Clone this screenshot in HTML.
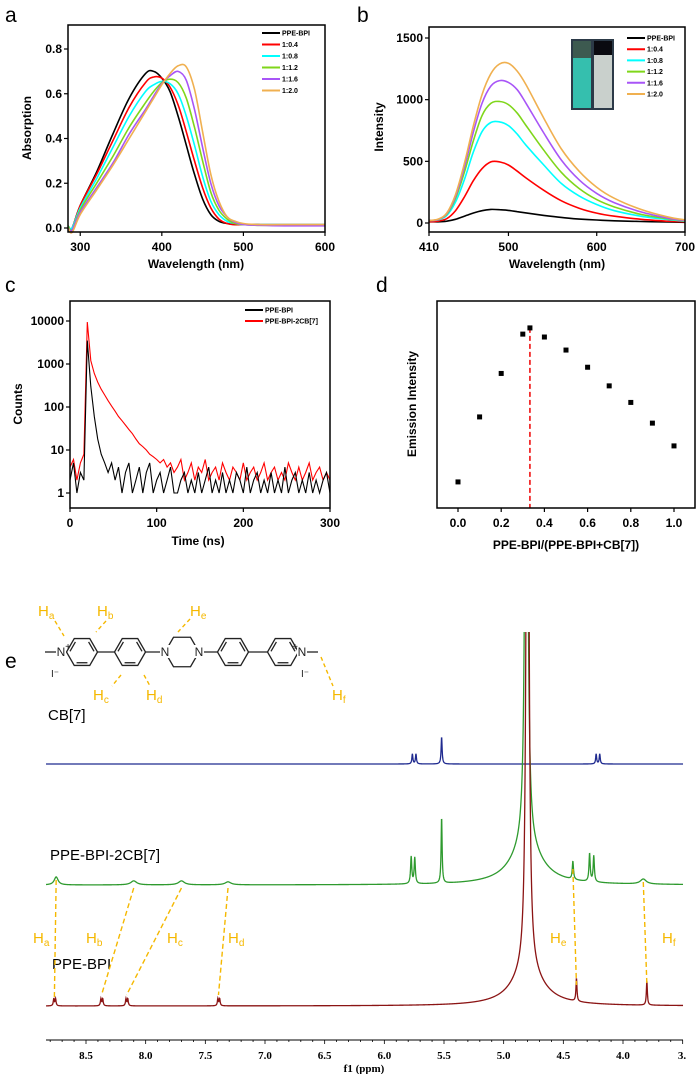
<!DOCTYPE html>
<html><head><meta charset="utf-8"><style>
body{margin:0;background:#fff;width:700px;height:1074px;overflow:hidden}
svg{display:block;font-family:"Liberation Sans",sans-serif}
.tk{font-weight:bold;font-size:12px}
.lg{font-weight:bold;font-size:7px}
.pl{font-size:21px}
.hl{fill:#F5B800;font-size:15px}
</style></head><body>
<svg id="fig" width="700" height="1074" viewBox="0 0 700 1074">
<defs><clipPath id="nmrclip"><rect x="40" y="632" width="650" height="420"/></clipPath>
<clipPath id="cclip"><rect x="70" y="301" width="260" height="207"/></clipPath></defs>
<g id="pa"></g>
<g id="pb"></g>
<g id="pc"></g>
<g id="pd"></g>
<g id="pe"></g>
</svg>
<script>
// ---- Panel a data ----
const absWl=[285,290,300,320,340,360,380,390,400,410,420,430,440,450,460,470,480,490,500,520,550,600];
const absBlack=[0.01,0.0,0.10,0.25,0.42,0.58,0.69,0.70,0.67,0.61,0.50,0.37,0.24,0.13,0.06,0.03,0.02,0.015,0.015,0.015];
const absRed=[0.01,0.0,0.10,0.24,0.39,0.54,0.65,0.675,0.67,0.63,0.55,0.43,0.30,0.18,0.09,0.04,0.02,0.015,0.015,0.015,0.015,0.015];
const absCyan=[0.01,0.0,0.09,0.22,0.36,0.50,0.61,0.64,0.655,0.645,0.60,0.50,0.37,0.23,0.12,0.06,0.03,0.02,0.015,0.015,0.015,0.015];
const absGreen=[0.01,-0.01,0.08,0.20,0.32,0.45,0.56,0.61,0.65,0.665,0.65,0.58,0.45,0.30,0.16,0.08,0.04,0.02,0.015,0.012,0.012,0.012];
const absPurple=[0.0,-0.01,0.07,0.18,0.29,0.42,0.53,0.59,0.645,0.68,0.70,0.66,0.53,0.36,0.20,0.10,0.05,0.025,0.015,0.012,0.01,0.01];
const absOrange=[0.0,-0.02,0.06,0.17,0.28,0.40,0.52,0.58,0.64,0.69,0.725,0.72,0.62,0.43,0.24,0.12,0.05,0.03,0.02,0.015,0.015,0.015];
const seriesNames=["PPE-BPI","1:0.4","1:0.8","1:1.2","1:1.6","1:2.0"];
const seriesColors=["#000","#f00","#0ff","#7fd61a","#a855f7","#f0b050"];
const aXTicks=[300,400,500,600];
const aYTicks=[0.0,0.2,0.4,0.6,0.8];
// ---- Panel b data ----
const emWl=[410,420,430,440,450,460,470,480,490,500,510,520,540,560,580,600,620,650,680,700];
const emBlack=[10,10,15,30,55,80,100,110,108,102,92,82,62,45,32,24,18,12,8,6];
const emRed=[10,15,35,100,210,340,440,495,495,470,420,365,265,180,120,80,55,30,15,10];
const emCyan=[20,25,60,170,350,570,740,815,820,790,720,630,470,320,220,150,100,55,28,15];
const emGreen=[20,28,70,200,410,660,870,970,985,960,890,790,590,410,280,190,130,70,35,18];
const emPurple=[20,28,75,215,450,730,970,1110,1155,1140,1080,970,730,510,350,240,165,90,40,20];
const emOrange=[20,30,80,230,480,780,1040,1210,1290,1295,1230,1120,850,600,420,290,200,110,50,25];
const bXTicks=[410,500,600,700];
const bYTicks=[0,500,1000,1500];
// ---- Panel c data (time step 4 ns) ----
const cTime=[0,4,8,12,16,20,24,28,32,36,40,44,48,52,56,60,64,68,72,76,80,84,88,92,96,100,104,108,112,116,120,124,128,132,136,140,144,148,152,156,160,164,168,172,176,180,184,188,192,196,200,204,208,212,216,220,224,228,232,236,240,244,248,252,256,260,264,268,272,276,280,284,288,292,296,300];
const cBlack=[2,5,1,3,2,3500,300,60,18,8,5,3,5,2,4,1,3,5,1,2,4,1,3,5,1,2,3,1,2,4,1,1,2,3,1,2,1,3,1,2,4,1,2,1,3,1,2,1,3,2,1,4,1,2,3,1,2,1,3,1,2,1,4,1,2,3,1,2,1,3,1,2,1,2,3,1];
const cRed=[4,6,2,5,8,9500,1200,600,380,260,190,140,105,80,60,48,38,30,24,18,14,12,10,8,7,6,5,6,4,5,3,4,6,2,3,5,2,4,3,6,2,3,4,2,5,3,2,4,3,2,5,2,3,4,2,3,5,2,3,4,2,3,2,5,3,2,4,2,3,5,2,3,4,2,3,2];
const cXTicks=[0,100,200,300];
const cYTicks=[1,10,100,1000,10000];
// ---- Panel d data ----
const dRatio=[0,0.1,0.2,0.3,0.333,0.4,0.5,0.6,0.7,0.8,0.9,1.0];
const dIntensity=[12.6,44,65,84,87,82.6,76.3,68,59,51,41,30];
const dPeakRatio=0.333;
const dXTicks=[0,0.2,0.4,0.6,0.8,1.0];
// ---- Panel e data (ppm, intensity, width) ----
const cbPpm=[5.765,5.735,5.52,4.225,4.195];
const cbInt=[10,10,27,10,10];
const cbW=[0.005,0.005,0.005,0.005,0.005];
const cxPpm=[8.75,8.10,7.70,7.31,5.775,5.745,5.52,4.81,4.81,4.42,4.28,4.245,3.83];
const cxInt=[8,4,4,3,27,26,66,700,40,18,28,26,5];
const cxW=[0.02,0.03,0.03,0.03,0.006,0.006,0.005,0.012,0.15,0.006,0.006,0.006,0.03];
const frPpm=[8.77,8.755,8.375,8.36,8.165,8.15,7.395,7.38,4.80,4.80,4.39,3.80];
const frInt=[7,7,7,7,7,7,7,7,900,36,23,24];
const frW=[0.005,0.005,0.005,0.005,0.005,0.005,0.005,0.005,0.011,0.15,0.005,0.005];
const eXTicks=[8.5,8.0,7.5,7.0,6.5,6.0,5.5,5.0,4.5,4.0];

const NS="http://www.w3.org/2000/svg";
function mk(parent,tag,attrs,text){const e=document.createElementNS(NS,tag);for(const k in attrs)e.setAttribute(k,attrs[k]);if(text!==undefined)e.textContent=text;parent.appendChild(e);return e;}
function lin(d0,d1,r0,r1){return v=>r0+(v-d0)*(r1-r0)/(d1-d0);}
function smooth(pts){let d="M"+pts[0][0].toFixed(1)+","+pts[0][1].toFixed(1);for(let i=0;i<pts.length-1;i++){const p0=pts[Math.max(0,i-1)],p1=pts[i],p2=pts[i+1],p3=pts[Math.min(pts.length-1,i+2)];const c1=[p1[0]+(p2[0]-p0[0])/6,p1[1]+(p2[1]-p0[1])/6],c2=[p2[0]-(p3[0]-p1[0])/6,p2[1]-(p3[1]-p1[1])/6];d+="C"+c1.map(v=>v.toFixed(1))+" "+c2.map(v=>v.toFixed(1))+" "+p2[0].toFixed(1)+","+p2[1].toFixed(1);}return d;}
function frame(g,x0,y0,x1,y1){const r=mk(g,"rect",{x:x0,y:y0,width:x1-x0,height:y1-y0,fill:"none",stroke:"#000","stroke-width":1.5});}
function xTicks(g,ticks,sx,y1,fmt){ticks.forEach(t=>{mk(g,"line",{x1:sx(t),x2:sx(t),y1:y1,y2:y1+4,stroke:"#000","stroke-width":1.2});const tx=mk(g,"text",{x:sx(t),y:y1+19,"text-anchor":"middle",class:"tk"},fmt(t));});}
function yTicks(g,ticks,sy,x0,fmt){ticks.forEach(t=>{mk(g,"line",{x1:x0-4,x2:x0,y1:sy(t),y2:sy(t),stroke:"#000","stroke-width":1.2});const tx=mk(g,"text",{x:x0-6,y:sy(t)+4,"text-anchor":"end",class:"tk"},fmt(t));});}
function title(g,x,y,txt,rot,name){const t=mk(g,"text",{x:x,y:y,"text-anchor":"middle",class:"tk",transform:rot?`rotate(-90 ${x} ${y})`:""},txt);}
function letter(g,x,y,l){const t=mk(g,"text",{x:x,y:y,class:"pl"},l);}
function legend(g,x,y,dy,names,cols){names.forEach((n,i)=>{const yy=y+i*dy;mk(g,"line",{x1:x,x2:x+18,y1:yy,y2:yy,stroke:cols[i],"stroke-width":2});const t=mk(g,"text",{x:x+20,y:yy+2.5,class:"lg"},n);});}

// Panel a
(function(){const g=document.getElementById("pa");const sx=lin(285,600,68,325),sy=lin(0,0.8,228,49);
letter(g,5,22,"a");
const all=[absBlack,absRed,absCyan,absGreen,absPurple,absOrange];
all.forEach((s,i)=>{const pts=s.map((v,j)=>[sx(absWl[j]),sy(v)]);const p=mk(g,"path",{d:smooth(pts),fill:"none",stroke:seriesColors[i],"stroke-width":1.6});});
frame(g,68,25,325,232);xTicks(g,aXTicks,sx,232,t=>t);yTicks(g,aYTicks,sy,68,t=>t.toFixed(1));
title(g,196,268,"Wavelength (nm)",false,"x-axis-title");title(g,31,128,"Absorption",true,"y-axis-title");
legend(g,262,33,11.5,seriesNames,seriesColors);})();

// Panel b
(function(){const g=document.getElementById("pb");const sx=lin(410,700,429,685),sy=lin(0,1500,223,38);
letter(g,357,22,"b");
const all=[emBlack,emRed,emCyan,emGreen,emPurple,emOrange];
all.forEach((s,i)=>{const pts=s.map((v,j)=>[sx(emWl[j]),sy(v)]);const p=mk(g,"path",{d:smooth(pts),fill:"none",stroke:seriesColors[i],"stroke-width":1.6});});
frame(g,429,27,685,232);xTicks(g,bXTicks,sx,232,t=>t);yTicks(g,bYTicks,sy,429,t=>t);
title(g,557,268,"Wavelength (nm)",false,"x-axis-title");title(g,383,127,"Intensity",true,"y-axis-title");
legend(g,627,38,11.2,seriesNames,seriesColors);
const ph=mk(g,"g",{});
mk(ph,"rect",{x:571,y:39,width:43,height:71,fill:"#2c3a48"});
mk(ph,"rect",{x:573,y:58,width:18,height:50,fill:"#35bfae"});
mk(ph,"rect",{x:573,y:41,width:18,height:17,fill:"#3d5a50"});
mk(ph,"rect",{x:594,y:55,width:18,height:53,fill:"#c9d0cc"});
mk(ph,"rect",{x:594,y:41,width:18,height:14,fill:"#0a0a10"});})();

// Panel c
(function(){const g=document.getElementById("pc");const sx=lin(0,300,70,330);const sy=v=>493-43*Math.log10(v);
letter(g,5,292,"c");
function line(arr,col){const d=arr.map((v,i)=>(i?"L":"M")+sx(cTime[i]).toFixed(1)+","+sy(v).toFixed(1)).join("");const p=mk(g,"path",{d:d,fill:"none",stroke:col,"stroke-width":1.1,"clip-path":"url(#cclip)"});}
line(cRed,"#f00");line(cBlack,"#000");
frame(g,70,301,330,508);xTicks(g,cXTicks,sx,508,t=>t);yTicks(g,cYTicks,sy,70,t=>t);
title(g,198,545,"Time (ns)",false,"x-axis-title");title(g,22,404,"Counts",true,"y-axis-title");
legend(g,245,310,11,["PPE-BPI","PPE-BPI-2CB[7]"],["#000","#f00"]);})();

// Panel d
(function(){const g=document.getElementById("pd");const sx=lin(0,1,458,674),sy=lin(0,100,508,301);
letter(g,376,292,"d");
const dl=mk(g,"line",{x1:sx(dPeakRatio),x2:sx(dPeakRatio),y1:sy(dIntensity[4]),y2:508,stroke:"#e00","stroke-width":1.5,"stroke-dasharray":"5,3"});
dRatio.forEach((r,i)=>{const p=mk(g,"rect",{x:sx(r)-2.5,y:sy(dIntensity[i])-2.5,width:5,height:5,fill:"#000"});});
frame(g,437,301,695,508);xTicks(g,dXTicks,sx,508,t=>t.toFixed(1));
title(g,566,549,"PPE-BPI/(PPE-BPI+CB[7])",false,"x-axis-title");title(g,416,404,"Emission Intensity",true,"y-axis-title");})();

// Panel e
(function(){const g=document.getElementById("pe");const sx=lin(8.5,4.0,86,623);
letter(g,5,668,"e");
function spec(pp,ii,ww,base,col,name){let d="";for(let x=8.835;x>=3.497;x-=0.002){let y=0;for(let k=0;k<pp.length;k++){const u=(x-pp[k])/ww[k];y+=ii[k]/(1+u*u);}d+=(d?"L":"M")+sx(x).toFixed(2)+","+(base-y).toFixed(2);}const p=mk(g,"path",{d:d,fill:"none",stroke:col,"stroke-width":1.3,"clip-path":"url(#nmrclip)"});}
spec(cbPpm,cbInt,cbW,764,"#1f2a8f","cb7-spectrum");
spec(cxPpm,cxInt,cxW,885,"#2e9a2e","complex-spectrum");
spec(frPpm,frInt,frW,1006,"#8b1414","ppe-bpi-spectrum");
mk(g,"line",{x1:46,x2:683,y1:1040,y2:1040,stroke:"#000","stroke-width":1});
for(let t=8.8;t>=3.5;t-=0.1){const x=sx(t);const major=Math.abs(t*2-Math.round(t*2))<0.01;mk(g,"line",{x1:x,x2:x,y1:1040,y2:major?1044:1042,stroke:"#000","stroke-width":0.8});}
eXTicks.forEach(t=>{const tx=mk(g,"text",{x:sx(t),y:1059,"text-anchor":"middle","font-family":"Liberation Serif,serif","font-weight":"bold","font-size":"11"},t.toFixed(1));});
const t3=mk(g,"text",{x:682,y:1059,"text-anchor":"middle","font-family":"Liberation Serif,serif","font-weight":"bold","font-size":"11"},"3.");
const xt=mk(g,"text",{x:364,y:1072,"text-anchor":"middle","font-family":"Liberation Serif,serif","font-weight":"bold","font-size":"11"},"f1 (ppm)");
[["CB[7]",48,720,"cb7-label"],["PPE-BPI-2CB[7]",50,860,"complex-label"],["PPE-BPI",52,969,"ppe-bpi-label"]].forEach(a=>{const t=mk(g,"text",{x:a[1],y:a[2],"font-size":"15"},a[0]);});
const Y="#F5B800";
[[8.75,880,8.765,997],[8.10,888,8.37,995],[7.70,888,8.16,995],[7.31,888,7.39,995],[4.42,869,4.39,985],[3.83,882,3.80,984]].forEach(c=>{const l=mk(g,"line",{x1:sx(c[0]),y1:c[1],x2:sx(c[2]),y2:c[3],stroke:Y,"stroke-width":1.4,"stroke-dasharray":"5,3"});});
function hl(x,y,s){const t=mk(g,"text",{x:x,y:y,class:"hl"});t.innerHTML=`H<tspan font-size="10" dy="3">${s}</tspan>`;}
hl(33,943,"a");hl(86,943,"b");hl(167,943,"c");hl(228,943,"d");hl(550,943,"e");hl(662,943,"f");
const st=mk(g,"g",{stroke:"#222","stroke-width":1.3,fill:"none"});
function hex(cx,cy,r,dbl){const p=[];for(let k=0;k<6;k++){const a=Math.PI/3*k;p.push([cx+r*Math.cos(a),cy+r*Math.sin(a)]);}mk(st,"polygon",{points:p.map(q=>q.join(",")).join(" ")});if(dbl){[[1,2],[3,4],[5,0]].forEach(e=>{const a=p[e[0]],b=p[e[1]];const ix=(a[0]+b[0])/2,iy=(a[1]+b[1])/2;const dx=(cx-ix)*0.2,dy=(cy-iy)*0.2;mk(st,"line",{x1:a[0]+dx+(b[0]-a[0])*0.15,y1:a[1]+dy+(b[1]-a[1])*0.15,x2:b[0]+dx-(b[0]-a[0])*0.15,y2:b[1]+dy-(b[1]-a[1])*0.15});});}}
hex(82,652,15.5,true);hex(130,652,15.5,true);hex(182,652,17,false);hex(233,652,15.5,true);hex(283,652,15.5,true);
[[97.5,114.5],[145.5,165],[199,217.5],[248.5,267.5],[45,60],[304,318]].forEach(b=>mk(st,"line",{x1:b[0],x2:b[1],y1:652,y2:652}));
[["N",61,656],["N",302,656],["N",165,656],["N",199,656]].forEach(a=>{mk(g,"rect",{x:a[1]-5,y:645,width:10,height:13,fill:"#fff"});const t=mk(g,"text",{x:a[1],y:a[2],"text-anchor":"middle","font-size":"12",fill:"#222"},a[0]);});
[["+",68,650],["+",295,650],["I\u207B",55,677],["I\u207B",305,677]].forEach(a=>{const t=mk(g,"text",{x:a[1],y:a[2],"font-size":"10",fill:"#222","text-anchor":"middle"},a[0]);});
[[55,621,64,636],[106,621,96,632],[190,619,178,632],[121,675,112,686],[144,675,150,686],[321,657,333,686]].forEach(c=>{const l=mk(g,"line",{x1:c[0],y1:c[1],x2:c[2],y2:c[3],stroke:Y,"stroke-width":1.4,"stroke-dasharray":"4,3"});});
hl(38,616,"a");hl(97,616,"b");hl(190,616,"e");hl(93,700,"c");hl(146,700,"d");hl(332,700,"f");})();
</script>
</body></html>
